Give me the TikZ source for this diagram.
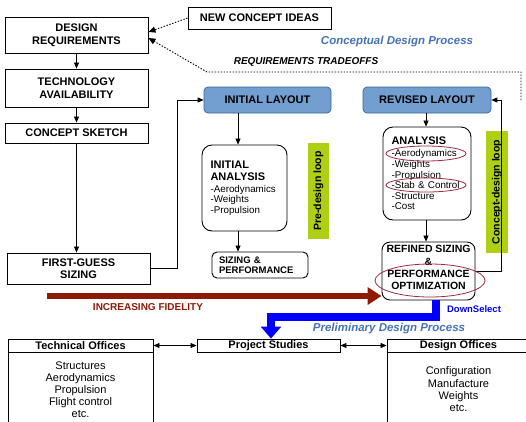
\documentclass[tikz,border=0pt]{standalone}
\usepackage{fontspec}
\setmainfont{Liberation Sans}
\usepackage{xcolor}
\usetikzlibrary{arrows.meta, positioning, calc, shapes}

\definecolor{layoutblue}{HTML}{729FCF}
\definecolor{layoutedge}{HTML}{3465A4}
\definecolor{loopgreen}{HTML}{AECF14}
\definecolor{fidred}{HTML}{8C1A06}
\definecolor{markred}{HTML}{9C2A40}
\definecolor{processblue}{HTML}{4472B4}
\definecolor{selectblue}{HTML}{0000FF}

\newcommand{\hdfont}{\bfseries\fontsize{11}{12.5}\selectfont}
\newcommand{\lstfont}{\fontsize{9.8}{10.6}\selectfont}

\tikzset{
  basebox/.style={draw, line width=0.9pt, fill=white, inner sep=0pt, align=center, font=\hdfont},
  layoutbox/.style={draw=layoutedge, fill=layoutblue, rounded corners=4pt, line width=0.7pt, inner sep=0pt, font=\hdfont},
  analysisbox/.style={draw, line width=0.9pt, rounded corners=10pt, align=left, inner xsep=8.5pt, font=\lstfont},
  loopbar/.style={fill=loopgreen, rotate=90, inner sep=0pt, font=\bfseries\fontsize{10.5}{12}\selectfont},
  arr/.style={-{Triangle[length=6pt,width=5pt]}, line width=0.8pt},
  dualarr/.style={{Triangle[length=6pt,width=5pt]}-{Triangle[length=6pt,width=5pt]}, line width=0.8pt},
  tradeoff/.style={line width=0.9pt, dash pattern=on 1.4pt off 1.6pt, -{Triangle[length=7pt,width=6pt]}},
  marker/.style={draw=markred, line width=0.8pt},
  proctitle/.style={text=processblue, font=\bfseries\itshape\fontsize{11.5}{13}\selectfont},
}

\begin{document}
\begin{tikzpicture}[x=1pt, y=-1pt]
  \useasboundingbox (0,0) rectangle (526,421);
  \clip (0,0) rectangle (526,421);

  % loop bars
  \node[loopbar, minimum width=96pt, minimum height=21pt] (pdl) at (318.5,191) {Pre-design loop};
  \node[loopbar, minimum width=122pt, minimum height=22pt] (cdl) at (497,192) {Concept-design loop};

  % left column
  \node[basebox, minimum width=143pt, minimum height=36pt] (dr) at (76.5,35) {DESIGN\\REQUIREMENTS};
  \node[basebox, minimum width=143pt, minimum height=38pt] (ta) at (76.5,88) {TECHNOLOGY\\AVAILABILITY};
  \node[basebox, minimum width=143pt, minimum height=20pt] (cs) at (76.5,133) {CONCEPT SKETCH};
  \node[basebox, minimum width=143pt, minimum height=31pt] (fg) at (78.5,268.5) {FIRST-GUESS\\SIZING};
  \node[basebox, minimum width=143pt, minimum height=22pt] (nci) at (259.5,18) {NEW CONCEPT IDEAS};

  % layouts and analyses
  \node[layoutbox, minimum width=127pt, minimum height=26pt] (il) at (267.5,100) {INITIAL LAYOUT};
  \node[layoutbox, minimum width=128pt, minimum height=26pt] (rl) at (427,100) {REVISED LAYOUT};
  \node[analysisbox, text width=68pt, minimum height=86pt] (ia) at (244.5,188)
    {{\hdfont INITIAL}\\[1.5pt]{\hdfont ANALYSIS}\\[1.5pt]-Aerodynamics\\-Weights\\-Propulsion};
  \node[analysisbox, text width=71pt, minimum height=93pt] (an) at (427,173.5)
    {{\hdfont ANALYSIS}\\[1.5pt]-Aerodynamics\\-Weights\\-Propulsion\\-Stab \& Control\\-Structure\\-Cost};
  \node[draw, line width=0.9pt, rounded corners=5pt, align=left, inner xsep=7pt, text width=82pt,
    minimum height=26pt, font=\bfseries\fontsize{9.5}{10.5}\selectfont] (sp) at (260,265) {SIZING \&\\PERFORMANCE};
  \node[basebox, rounded corners=8pt, minimum width=93pt, minimum height=58pt,
    font=\bfseries\fontsize{10.5}{12}\selectfont] (rs) at (428.5,271)
    {REFINED SIZING\\[1pt]\&\\PERFORMANCE\\OPTIMIZATION\rule[-7pt]{0pt}{7pt}};

  % texts
  \node[proctitle] (cdp) at (397,42) {Conceptual Design Process};
  \node[font=\bfseries\itshape\fontsize{10}{12}\selectfont] (rto) at (306,62) {REQUIREMENTS TRADEOFFS};
  \node[text=fidred, font=\bfseries\fontsize{10}{12}\selectfont] (fid) at (148,307) {INCREASING FIDELITY};
  \node[text=selectblue, font=\bfseries\fontsize{9.5}{11}\selectfont] (dsel) at (474,309) {DownSelect};
  \node[proctitle] (pdp) at (389,329) {Preliminary Design Process};

  % offices
  \node[basebox, minimum width=145pt, minimum height=13pt] (toh) at (80.5,345.5) {Technical Offices};
  \node[draw, line width=0.9pt, minimum width=145pt, minimum height=73pt, below=0pt of toh, align=center,
    font=\fontsize{11}{12}\selectfont] (tob) {Structures\\Aerodynamics\\Propulsion\\Flight control\\etc.};
  \node[basebox, minimum width=143pt, minimum height=13pt] (ps) at (268.5,345.5) {Project Studies};
  \node[basebox, minimum width=143pt, minimum height=13pt] (doh) at (458.5,345.5) {Design Offices};
  \node[draw, line width=0.9pt, minimum width=143pt, minimum height=73pt, below=0pt of doh, align=center,
    font=\fontsize{11}{12.3}\selectfont] (dob) {Configuration\\Manufacture\\Weights\\etc.};

  % connectors
  \draw[arr] (dr.south) -- (ta.north);
  \draw[arr] (ta.south) -- (cs.north);
  \draw[arr] (cs.south) -- (cs.south |- fg.north);
  \draw[arr] (fg.east) -- ++(27,0) |- (il.west);
  \coordinate (lx) at (238,0);
  \draw[arr] (il.south -| lx) -- (ia.north -| lx);
  \draw[arr] (ia.south -| lx) -- (sp.north -| lx);
  \coordinate (rx) at (426,0);
  \draw[arr] (rl.south -| rx) -- (an.north -| rx);
  \draw[arr] (an.south -| rx) -- (rs.north -| rx);
  \draw[arr] (rs.east) -- ++(26,0) |- (rl.east);
  \draw[dualarr] (toh.east) -- (ps.west);
  \draw[dualarr] (ps.east) -- (doh.west);

  \draw[tradeoff] (nci.west) -- ($(dr.east)+(0,-3)$);
  \coordinate (tradeend) at (521,100);
  \draw[tradeoff] (tradeend) |- (207,72) -- ($(dr.east)+(0,3)$);

  \coordinate (fidstart) at (47,296);
  \draw[line width=6.5pt, fidred, -{Triangle[length=14pt,width=17pt]}] (fidstart) -- (fidstart -| rs.west);

  \coordinate (selx) at (436,0);
  \coordinate (psx) at (271,0);
  \draw[line width=8pt, selectblue, -{Triangle[length=12pt,width=20pt]}]
    (rs.south -| selx) |- (271,317) -- (ps.north -| psx);

  % marks
  \draw[marker] (426,153.5) ellipse [x radius=40pt, y radius=7.5pt];
  \draw[marker] (426,185) ellipse [x radius=40pt, y radius=7pt];
  \draw[marker] (430,280.5) ellipse [x radius=55pt, y radius=16.5pt];
\end{tikzpicture}
\end{document}
